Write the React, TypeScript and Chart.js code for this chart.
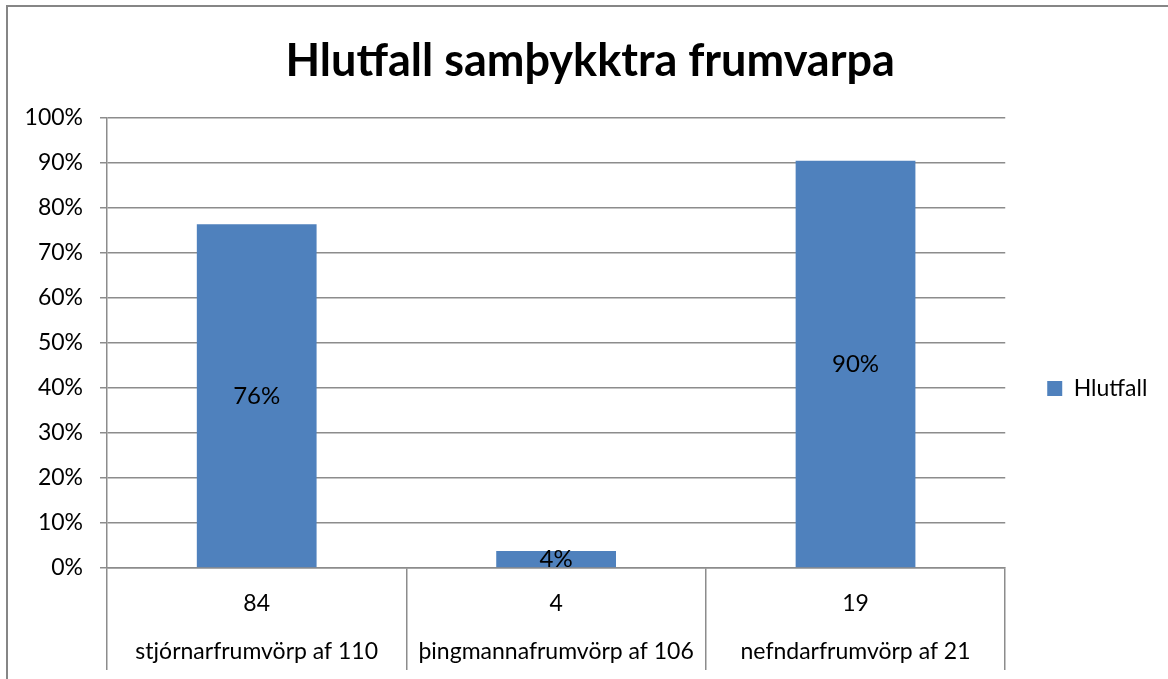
import React, { useEffect, useRef } from "react";
import { Chart, registerables } from "chart.js";

Chart.register(...registerables);

const chartTitle = "Hlutfall samþykktra frumvarpa";
const seriesName = "Hlutfall";
const categories = ["stjórnarfrumvörp af 110", "þingmannafrumvörp af 106", "nefndarfrumvörp af 21"];
const approvedCounts = [84, 4, 19];
const totalCounts = [110, 106, 21];
const shares = approvedCounts.map((a, i) => (a / totalCounts[i]) * 100);
const yTicks = [0, 10, 20, 30, 40, 50, 60, 70, 80, 90, 100];

const FONT = "Lato, 'Noto Sans', sans-serif";
const GRID = "#8c8c8c";
const BAR = "#4F81BD";

const dataLabelPlugin = {
  id: "dataLabels",
  afterDatasetsDraw(chart: any) {
    const ctx = chart.ctx;
    const meta = chart.getDatasetMeta(0);
    ctx.save();
    ctx.font = `24px ${FONT}`;
    ctx.fillStyle = "#000";
    ctx.textAlign = "center";
    ctx.textBaseline = "middle";
    meta.data.forEach((el: any, i: number) => {
      const { x, y, base } = el.getProps(["x", "y", "base"], true);
      ctx.fillText(Math.round(shares[i]) + "%", x, (y + base) / 2);
    });
    ctx.restore();
  },
};

export default function App() {
  const ref = useRef<HTMLCanvasElement>(null);
  useEffect(() => {
    if (!ref.current) return;
    Chart.defaults.color = "#000";
    const chart = new Chart(ref.current, {
      type: "bar",
      data: {
        labels: categories.map((c, i) => [String(approvedCounts[i]), c]),
        datasets: [
          {
            label: seriesName,
            data: shares,
            backgroundColor: BAR,
            borderWidth: 0,
            barPercentage: 0.4,
            categoryPercentage: 1,
          },
        ],
      },
      options: {
        responsive: false,
        animation: false,
        layout: { padding: { left: 23, right: 10.6, top: 0, bottom: 0 } },
        plugins: {
          title: {
            display: true,
            text: chartTitle,
            font: { family: FONT, size: 45, weight: "bold", lineHeight: 1.2 },
            color: "#000",
            padding: { top: 34, bottom: 30 },
          },
          legend: {
            position: "right",
            title: {
              display: true,
              text: "",
              font: { size: 10, lineHeight: "12px" },
              padding: { top: 86, bottom: 0 },
            },
            labels: {
              font: { family: FONT, size: 23 },
              color: "#000",
              boxWidth: 15,
              boxHeight: 15,
              padding: 42,
            },
          },
          tooltip: { enabled: false },
        },
        scales: {
          x: {
            offset: true,
            grid: {
              offset: true,
              drawOnChartArea: false,
              drawTicks: true,
              tickLength: 102,
              color: GRID,
              lineWidth: 1.5,
            },
            border: { color: GRID, width: 1.5 },
            ticks: {
              font: { family: FONT, size: 23, lineHeight: "48px" },
              color: "#000",
              padding: -90,
              maxRotation: 0,
              autoSkip: false,
            },
            afterFit(scale: any) {
              scale.height = 111;
            },
          },
          y: {
            min: 0,
            max: 100,
            afterBuildTicks(scale: any) {
              scale.ticks = yTicks.map((v) => ({ value: v }));
            },
            grid: {
              color: GRID,
              lineWidth: 1.5,
              tickLength: 7,
            },
            border: { color: GRID, width: 1.5 },
            ticks: {
              font: { family: FONT, size: 23 },
              color: "#000",
              padding: 17,
              callback: (v: any) => v + "%",
            },
            afterFit(scale: any) {
              scale.width = 84;
            },
          },
        },
      },
      plugins: [dataLabelPlugin],
    });
    return () => chart.destroy();
  }, []);

  return (
    <div style={{ position: "absolute", left: 0, top: 0, width: 1168, height: 679, background: "#fff" }}>
      <div
        style={{
          position: "absolute",
          left: 6,
          top: 5,
          width: 1162,
          height: 674,
          borderTop: "2px solid #868686",
          borderLeft: "2px solid #868686",
          boxSizing: "border-box",
        }}
      />
      <canvas ref={ref} width={1168} height={679} style={{ position: "absolute", left: 0, top: 0 }} />
    </div>
  );
}
